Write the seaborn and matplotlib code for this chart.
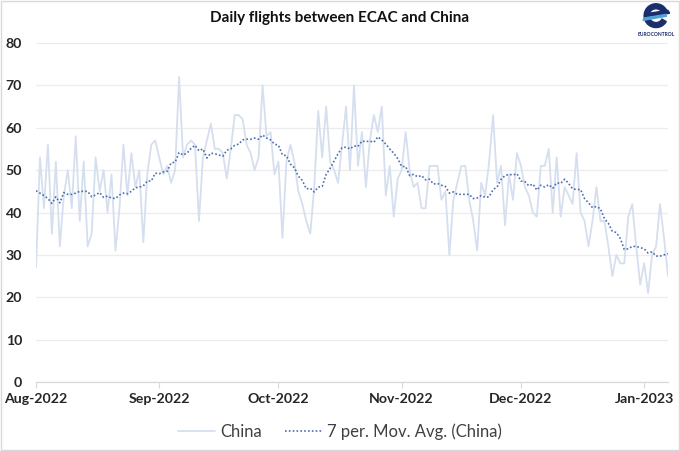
import numpy as np
import pandas as pd
import matplotlib

matplotlib.use("Agg")
import matplotlib.pyplot as plt
import matplotlib.dates as mdates
from matplotlib.patches import Wedge, Polygon, Rectangle
import seaborn as sns

sns.set_theme(style="white")
plt.rcParams["font.family"] = ["Lato", "DejaVu Sans"]

# last days of July, only needed so the 7-day average exists from Aug 1
JULY_TAIL = [57, 45, 61, 43, 41, 42]

# daily flights, 1 Aug 2022 .. 7 Jan 2023
CHINA = [
    27, 53, 41, 56, 35, 52, 32, 44, 50, 41, 58, 38, 52, 32, 35, 53, 45, 50, 40, 49,
    31, 41, 56, 44, 54, 46, 50, 33, 49, 56, 57, 53, 49, 51, 47, 50, 72, 53, 56, 57,
    56, 38, 53, 57, 61, 55, 55, 54, 48, 55, 63, 63, 62, 56, 54, 50, 53, 70, 58, 59,
    49, 52, 34, 52, 56, 52, 45, 42, 38, 35, 46, 64, 53, 65, 52, 50, 47, 56, 65, 50,
    70, 51, 59, 46, 57, 63, 59, 65, 44, 51, 39, 48, 50, 59, 50, 46, 47, 41, 41, 51,
    51, 51, 43, 45, 30, 43, 47, 51, 51, 43, 38, 31, 47, 44, 52, 63, 47, 51, 37, 49,
    43, 54, 51, 46, 44, 40, 39, 51, 51, 55, 40, 53, 39, 46, 44, 42, 54, 40, 38, 32,
    38, 46, 38, 38, 32, 25, 30, 28, 28, 39, 42, 32, 23, 28, 21, 30, 32, 42, 34, 25,
]

START = "2022-07-26"
FIRST_DAY = "2022-08-01"
Y_TICKS = [0, 10, 20, 30, 40, 50, 60, 70, 80]

DAILY_COLOR = "#D5DFEF"
MA_COLOR = "#4B6DB0"
TEXT_COLOR = "#262626"
GRID_COLOR = "#ECECEC"

values = JULY_TAIL + CHINA
df = pd.DataFrame({
    "date": pd.date_range(START, periods=len(values), freq="D"),
    "China": values,
})
df["ma"] = df["China"].rolling(7).mean()
df = df[df["date"] >= FIRST_DAY]

fig = plt.figure(figsize=(6.8, 4.51), dpi=100)
ax = fig.add_axes([36 / 680, 69 / 451, 632 / 680, 339 / 451])

sns.lineplot(data=df, x="date", y="China", ax=ax, color=DAILY_COLOR,
             linewidth=1.3, label="China")
sns.lineplot(data=df, x="date", y="ma", ax=ax, color=MA_COLOR,
             linewidth=1.2, linestyle=(0, (1, 1.3)),
             label="7 per. Mov. Avg. (China)")

ax.set_xlim(df["date"].iloc[0], df["date"].iloc[-1])
ax.set_ylim(0, 80)
ax.set_yticks(Y_TICKS)
ax.yaxis.grid(True, color=GRID_COLOR, linewidth=0.9)
ax.set_axisbelow(True)
ax.set_xlabel("")
ax.set_ylabel("")

ax.xaxis.set_major_locator(mdates.MonthLocator())
ax.xaxis.set_major_formatter(mdates.DateFormatter("%b-%Y"))
for lbl in ax.get_xticklabels() + ax.get_yticklabels():
    lbl.set_fontweight("bold")
    lbl.set_color(TEXT_COLOR)
    lbl.set_fontsize(10.2)
ax.tick_params(axis="x", which="major", bottom=True, length=4, width=0.8,
               color="#D9D9D9", pad=4)
ax.tick_params(axis="y", left=False, length=0, pad=10)

for side in ["top", "right", "left"]:
    ax.spines[side].set_visible(False)
ax.spines["bottom"].set_color("#D9D9D9")
ax.spines["bottom"].set_linewidth(0.9)

ax.get_legend().remove()
handles, labels = ax.get_legend_handles_labels()
fig.legend(handles, labels, loc="center", bbox_to_anchor=(0.5, 19 / 451),
           ncol=2, frameon=False, fontsize=12, handlelength=2.2,
           columnspacing=1.4, handletextpad=0.3, labelcolor="#404040")

fig.text(0.5, 1 - 18 / 451, "Daily flights between ECAC and China",
         ha="center", va="center", fontsize=11, fontweight="bold",
         color="#111111")

# rough EUROCONTROL mark in the top-right corner
logo = fig.add_axes([636 / 680, 1 - 40 / 451, 40 / 680, 38 / 451])
logo.set_xlim(-1.6, 1.6)
logo.set_ylim(-1.9, 1.3)
logo.set_aspect("equal")
logo.axis("off")
logo.add_patch(Wedge((0, 0.15), 1.0, 25, 330, width=0.42, color="#1B2D6B"))
logo.add_patch(Polygon([[-0.95, 0.05], [1.15, 0.35], [1.0, 0.6], [-0.9, 0.3]],
                       closed=True, color="#1B2D6B"))
logo.add_patch(Polygon([[-1.1, -0.25], [0.9, 0.1], [0.8, 0.25], [-1.0, -0.05]],
                       closed=True, color="#4FA3D9"))
logo.text(0, -1.45, "EUROCONTROL", ha="center", va="center", fontsize=3.6,
          fontweight="bold", color="#1B2D6B")

fig.patches.append(Rectangle((0.001, 0.002), 0.997, 0.996, transform=fig.transFigure,
                             fill=False, edgecolor="#D9D9D9", linewidth=1.0))

fig.savefig("out.png", dpi=100)
